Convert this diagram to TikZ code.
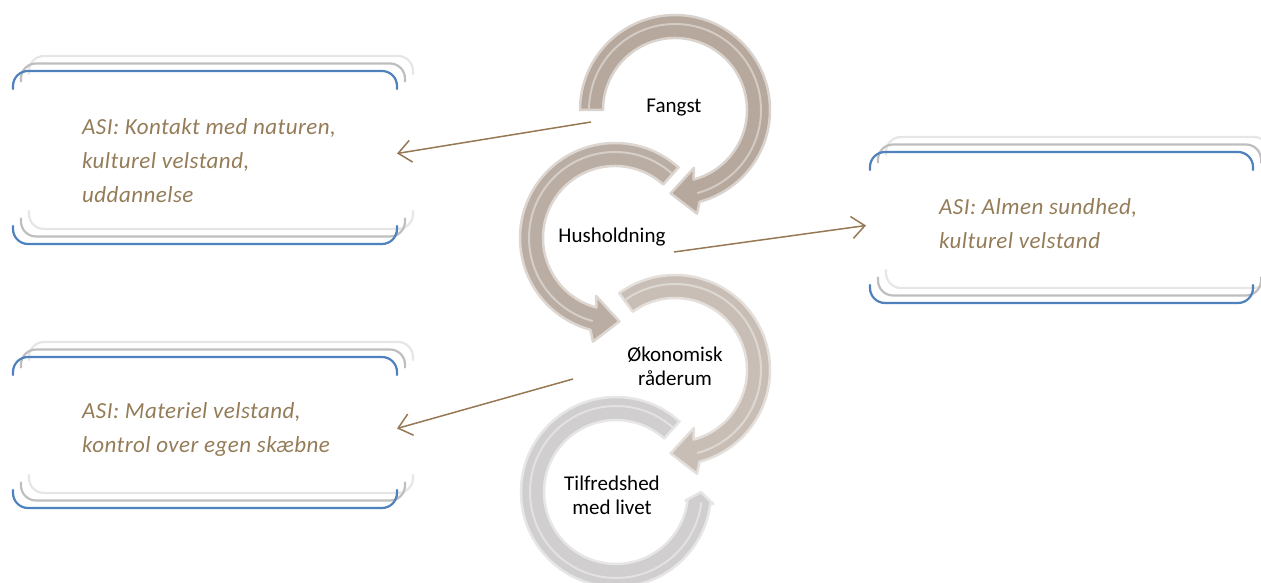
\documentclass[tikz,border=0pt]{standalone}
\usepackage{fontspec}
\setmainfont{Carlito}
\newfontfamily\boxfont[LetterSpace=2]{Carlito}
\usetikzlibrary{arrows.meta}
\definecolor{frameblue}{RGB}{79,129,189}
\definecolor{framegray}{RGB}{190,190,190}
\definecolor{framelight}{RGB}{230,230,230}
\definecolor{textbrown}{RGB}{148,124,88}
\definecolor{connbrown}{RGB}{150,120,85}
\definecolor{ringA}{RGB}{182,168,156}
\definecolor{ringB}{RGB}{186,174,164}
\definecolor{ringC}{RGB}{200,190,182}
\definecolor{ringD}{RGB}{208,206,206}
\newcommand\myframedraw[4]{%
  \draw[#4] ([shift={(#2,#3-18)}]#1.north west) -- ([shift={(#2,#3)}]#1.north west) -- ([shift={(#2,#3)}]#1.north east) -- ([shift={(#2,#3-18)}]#1.north east);
  \draw[#4] ([shift={(#2,#3+18)}]#1.south west) -- ([shift={(#2,#3)}]#1.south west) -- ([shift={(#2,#3)}]#1.south east) -- ([shift={(#2,#3+18)}]#1.south east);}
\newcommand\myringarrow[8]{%
  \begin{scope}[shift={(#1,#2)}]
    \filldraw[fill=#8, draw=#8!50!white, line width=2.5pt, line join=round]
      (#3:95) arc[start angle=#3, end angle=#4, radius=95] -- (#5:106) -- (#6:83.5) -- (#7:61) -- (#4:72)
      arc[start angle=#4, end angle=#3, radius=72] -- cycle;
    \draw[#8!60!white, line width=2pt] (#3:86) arc[start angle=#3, end angle=#4, radius=86];
  \end{scope}}
\begin{document}
\begin{tikzpicture}[x=1pt, y=1pt,
  boxnode/.style={inner sep=0pt, outer sep=0pt},
  frameline/.style={rounded corners=15pt, line width=2.2pt, line cap=round},
  bluefr/.style={frameline, draw=frameblue},
  grayfr/.style={frameline, draw=framegray},
  lightfr/.style={frameline, draw=framelight},
  boxtext/.style={inner sep=0pt, anchor=west, align=left, text=textbrown,
    font=\boxfont\fontsize{23}{34}\selectfont\itshape},
  ringlabel/.style={inner sep=0pt, align=center, text=black,
    font=\fontsize{21}{24}\selectfont},
  conn/.style={draw=connbrown, line width=1.5pt, -{Straight Barb[length=13pt, width=22pt, line width=1.5pt]}}]
\useasboundingbox (0,0) rectangle (1261,583);

% rings
\myringarrow{675}{473}{180}{-75}{-78}{-93}{-72}{ringA}
\myringarrow{615}{345}{48}{255}{258}{273}{252}{ringB}
\myringarrow{675}{213}{126}{-75}{-78}{-93}{-72}{ringC}
\begin{scope}[shift={(616,91)}]
  \filldraw[fill=ringD, draw=ringD!50!white, line width=2.5pt, line join=round]
    (48:95) arc[start angle=48, end angle=353, radius=95] -- (353:98) -- (360:85) -- (353:70) -- (353:72)
    arc[start angle=353, end angle=48, radius=72] -- cycle;
  \draw[ringD!60!white, line width=2pt] (48:86) arc[start angle=48, end angle=353, radius=86];
\end{scope}

% ring labels
\node[ringlabel] (l1) at (674,475) {Fangst};
\node[ringlabel] (l2) at (612,346) {Husholdning};
\node[ringlabel] (l3) at (675,217) {Økonomisk\\råderum};
\node[ringlabel] (l4) at (612,88) {Tilfredshed\\med livet};

% boxes
\node[boxnode, minimum width=384pt, minimum height=173pt] (b1) at (205,425.5) {};
\node[boxnode, minimum width=383pt, minimum height=151pt] (b2) at (1061.5,355.5) {};
\node[boxnode, minimum width=384pt, minimum height=151pt] (b3) at (205,150.5) {};
\foreach \b in {b1,b2,b3}{
  \myframedraw{\b}{16}{15}{lightfr}
  \myframedraw{\b}{8}{7.5}{grayfr}
  \myframedraw{\b}{0}{0}{bluefr}
}

% box texts
\node[boxtext] (t1) at (82,422.5) {ASI: Kontakt med naturen,\\kulturel velstand,\\uddannelse};
\node[boxtext] (t2) at (939,359) {ASI: Almen sundhed,\\kulturel velstand};
\node[boxtext] (t3) at (82,153.5) {ASI: Materiel velstand,\\kontrol over egen skæbne};

% connectors
\coordinate (s1) at (591,461);
\coordinate (s2) at (674,331);
\coordinate (s3) at (573,204);
\draw[conn] (s1) -- ([yshift=4pt]b1.east);
\draw[conn] (s2) -- ([xshift=-4pt,yshift=2pt]b2.west);
\draw[conn] (s3) -- ([yshift=4pt]b3.east);
\end{tikzpicture}
\end{document}
